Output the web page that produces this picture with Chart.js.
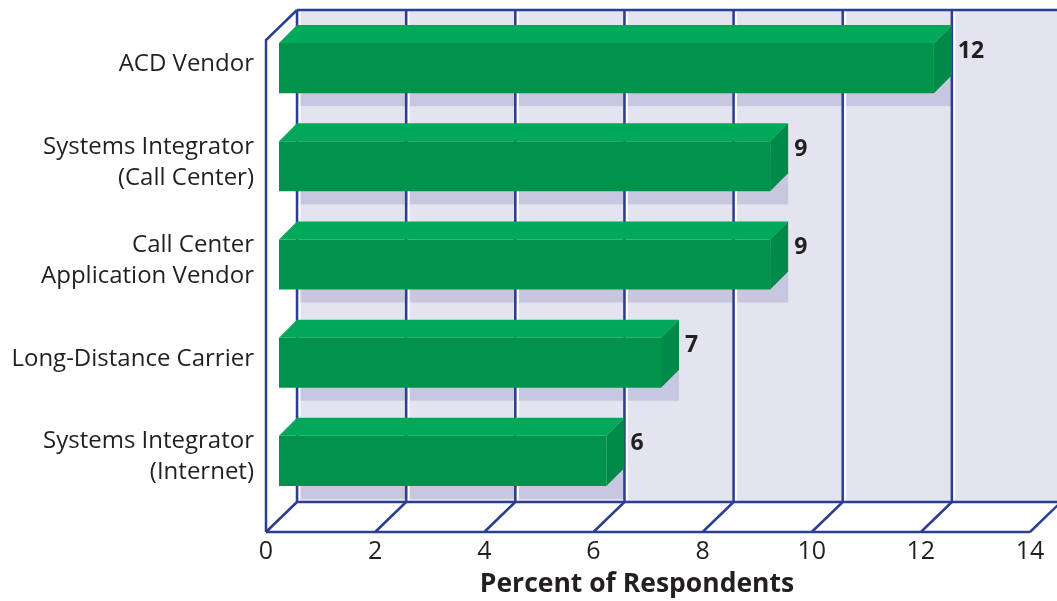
<!DOCTYPE html>
<html>
<head>
<meta charset="utf-8">
<script src="https://cdn.jsdelivr.net/npm/chart.js@4/dist/chart.umd.min.js"></script>
<style>
  html, body { margin: 0; padding: 0; background: #ffffff; }
  #wrap { width: 1057px; height: 601px; }
</style>
</head>
<body>
<div id="wrap"><canvas id="respondentsChart"></canvas></div>
<script>
const categories = [
    ['ACD Vendor'],
    ['Systems Integrator', '(Call Center)'],
    ['Call Center', 'Application Vendor'],
    ['Long-Distance Carrier'],
    ['Systems Integrator', '(Internet)']
];
const percents = [12, 9, 9, 7, 6];
const xMin = 0;
const xMax = 14;
const xStep = 2;
const xTitle = 'Percent of Respondents';

const textColor = '#231f20';
const gridBlue = '#2b3e91';
const wallColor = '#e4e4f0';
const shadowColor = '#c7c7df';
const frontGreen = '#01934c';
const topGreen = '#00a85a';
const sideGreen = '#008a4a';

// fake 3d: bars sit 13px behind the floor front edge and are 18px deep
const barDepth = 18;
const frontGap = 13;
const wallTop = 10;
const floorBack = 502;
const floorFront = 532;

const tickValues = () => {
    const vals = [];
    for (let v = xMin; v <= xMax; v += xStep) vals.push(v);
    return vals;
};

const box3d = {
    id: 'box3d',
    beforeDatasetsDraw(chart) {
        const ctx = chart.ctx;
        const xs = chart.scales.x;
        const xBack = v => xs.getPixelForValue(v) + barDepth;
        const xFront = v => xs.getPixelForValue(v) - frontGap;
        const w = chart.width;
        ctx.save();

        // back wall
        ctx.fillStyle = wallColor;
        ctx.fillRect(xBack(xMin), wallTop, w - xBack(xMin), floorBack - wallTop);

        // shadows of the bars on the wall
        const meta = chart.getDatasetMeta(0);
        ctx.fillStyle = shadowColor;
        meta.data.forEach(bar => {
            const p = bar.getProps(['x', 'y', 'base', 'height'], true);
            const top = p.y - p.height / 2;
            const bottom = p.y + p.height / 2;
            ctx.fillRect(p.base + barDepth, top + frontGap, p.x - p.base, bottom - top);
        });

        // wall grid lines with white highlight
        ctx.lineCap = 'butt';
        tickValues().forEach(v => {
            const x = xBack(v);
            ctx.strokeStyle = '#ffffff';
            ctx.lineWidth = 2;
            ctx.beginPath();
            ctx.moveTo(x + 2.5, wallTop);
            ctx.lineTo(x + 2.5, floorBack);
            ctx.stroke();
            ctx.strokeStyle = gridBlue;
            ctx.lineWidth = 2.5;
            ctx.beginPath();
            ctx.moveTo(x, wallTop);
            ctx.lineTo(x, floorBack);
            ctx.stroke();
        });

        ctx.strokeStyle = gridBlue;
        ctx.lineWidth = 2.5;
        ctx.lineJoin = 'miter';
        // top edge and back floor edge
        ctx.beginPath();
        ctx.moveTo(xBack(xMin), wallTop);
        ctx.lineTo(w, wallTop);
        ctx.moveTo(xBack(xMin), floorBack);
        ctx.lineTo(w, floorBack);
        ctx.stroke();

        // floor diagonals
        ctx.beginPath();
        tickValues().forEach(v => {
            ctx.moveTo(xFront(v), floorFront);
            ctx.lineTo(xBack(v), floorBack);
        });
        ctx.moveTo(xFront(xMin), floorFront);
        ctx.lineTo(xFront(xMax), floorFront);
        ctx.stroke();

        // left wall
        ctx.beginPath();
        ctx.moveTo(xFront(xMin), floorFront);
        ctx.lineTo(xFront(xMin), wallTop + (floorFront - floorBack));
        ctx.lineTo(xBack(xMin), wallTop);
        ctx.stroke();
        ctx.restore();
    },
    afterDatasetsDraw(chart) {
        const ctx = chart.ctx;
        const meta = chart.getDatasetMeta(0);
        const values = chart.data.datasets[0].data;
        ctx.save();
        meta.data.forEach((bar, i) => {
            const p = bar.getProps(['x', 'y', 'base', 'height'], true);
            const top = p.y - p.height / 2;
            const bottom = p.y + p.height / 2;
            const d = barDepth;
            // top face
            ctx.fillStyle = topGreen;
            ctx.beginPath();
            ctx.moveTo(p.base, top);
            ctx.lineTo(p.x, top);
            ctx.lineTo(p.x + d, top - d);
            ctx.lineTo(p.base + d, top - d);
            ctx.closePath();
            ctx.fill();
            // right side face
            ctx.fillStyle = sideGreen;
            ctx.beginPath();
            ctx.moveTo(p.x, top);
            ctx.lineTo(p.x + d, top - d);
            ctx.lineTo(p.x + d, bottom - d);
            ctx.lineTo(p.x, bottom);
            ctx.closePath();
            ctx.fill();
            // value label
            ctx.fillStyle = textColor;
            ctx.font = 'bold 23px "Open Sans"';
            ctx.textAlign = 'left';
            ctx.textBaseline = 'middle';
            ctx.fillText(String(values[i]), p.x + d + 6, top + 8);
        });

        // axis title
        const xs = chart.scales.x;
        const mid = (xs.getPixelForValue(xMin) + xs.getPixelForValue(xMax)) / 2 - frontGap - 11;
        ctx.font = 'bold 26.5px "Open Sans"';
        ctx.textAlign = 'center';
        ctx.textBaseline = 'middle';
        ctx.fillText(xTitle, mid, 584);
        ctx.restore();
    }
};

const ctx = document.getElementById('respondentsChart').getContext('2d');
const respondentsChart = new Chart(ctx, {
    type: 'bar',
    data: {
        labels: categories,
        datasets: [{
            label: xTitle,
            data: percents,
            backgroundColor: frontGreen,
            borderWidth: 0,
            barPercentage: 0.51,
            categoryPercentage: 1
        }]
    },
    options: {
        indexAxis: 'y',
        responsive: true,
        maintainAspectRatio: false,
        animation: false,
        layout: {
            padding: { top: 19, right: 14, left: 0, bottom: 0 }
        },
        plugins: {
            legend: { display: false },
            tooltip: { enabled: false }
        },
        scales: {
            x: {
                min: xMin,
                max: xMax,
                afterFit: (scale) => {
                    scale.height = 91;
                    scale.paddingLeft = 0;
                    scale.paddingRight = 0;
                },
                grid: { display: false, drawTicks: false },
                border: { display: false },
                ticks: {
                    stepSize: xStep,
                    padding: 27,
                    labelOffset: -frontGap,
                    color: textColor,
                    font: { family: 'Open Sans', size: 25 }
                }
            },
            y: {
                afterFit: (scale) => {
                    scale.width = 279;
                    scale.paddingTop = 0;
                    scale.paddingBottom = 0;
                },
                grid: { display: false, drawTicks: false },
                border: { display: false },
                ticks: {
                    padding: 25,
                    labelOffset: -4,
                    color: textColor,
                    font: { family: 'Open Sans', size: 24, lineHeight: 1.3 }
                }
            }
        }
    },
    plugins: [box3d]
});
</script>
</body>
</html>
